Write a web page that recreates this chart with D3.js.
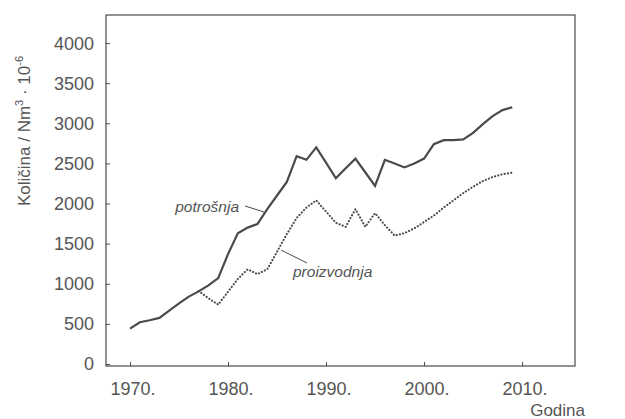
<!DOCTYPE html>
<html><head><meta charset="utf-8">
<script src="https://cdn.jsdelivr.net/npm/d3@7"></script>
<style>
body{margin:0;background:#fff;}
text{font-family:"Liberation Sans",Arial,sans-serif;fill:#555;}
</style></head>
<body><svg id="c" width="625" height="419"></svg>
<script>
const potrosnjaYears = [1970,1971,1972,1973,1974,1975,1976,1977,1978,1979,1980,1981,1982,1983,1984,1985,1986,1987,1988,1989,1990,1991,1992,1993,1994,1995,1996,1997,1998,1999,2000,2001,2002,2003,2004,2005,2006,2007,2008,2009];
const potrosnjaValues = [440,520,545,575,665,755,840,905,980,1070,1370,1630,1700,1745,1930,2100,2270,2590,2545,2700,2510,2315,2440,2560,2390,2220,2545,2500,2450,2500,2560,2740,2790,2790,2800,2880,2990,3090,3165,3200];
const proizvodnjaYears = [1977,1978,1979,1980,1981,1982,1983,1984,1985,1986,1987,1988,1989,1990,1991,1992,1993,1994,1995,1996,1997,1998,1999,2000,2001,2002,2003,2004,2005,2006,2007,2008,2009];
const proizvodnjaValues = [910,820,740,900,1060,1180,1120,1180,1400,1620,1820,1950,2040,1900,1760,1710,1930,1710,1880,1730,1600,1630,1690,1770,1850,1950,2040,2130,2210,2280,2330,2365,2385];
const yTicks = [0,500,1000,1500,2000,2500,3000,3500,4000];
const xTicks = [1970,1980,1990,2000,2010];

const svg = d3.select("#c");
const L=106,R=575,T=15,B=366;
const x = d3.scaleLinear().domain([1967.55,2015.4]).range([L,R]);
const y = d3.scaleLinear().domain([-25,4350]).range([B,T]);
const col = "#4a4a4a";

// frame
svg.append("rect").attr("x",L).attr("y",T).attr("width",R-L).attr("height",B-T)
  .attr("fill","none").attr("stroke",col).attr("stroke-width",1.2);

const yAxis = svg.append("g").attr("transform",`translate(${L},0)`)
  .call(d3.axisRight(y).tickValues(yTicks).tickSize(4).tickFormat(""));
yAxis.select(".domain").remove();
yAxis.selectAll("line").attr("stroke",col);
svg.selectAll(".ylab").data(yTicks).enter().append("text")
  .attr("x",L-12).attr("y",d=>y(d)).attr("dy","0.36em").attr("text-anchor","end")
  .attr("font-size",18).text(d=>d);

const xAxis = svg.append("g").attr("transform",`translate(0,${B})`)
  .call(d3.axisTop(x).tickValues(xTicks).tickSize(4).tickFormat(""));
xAxis.select(".domain").remove();
xAxis.selectAll("line").attr("stroke",col);
svg.selectAll(".xlab").data(xTicks).enter().append("text")
  .attr("x",d=>x(d)+3).attr("y",B+29).attr("text-anchor","middle")
  .attr("font-size",18).text(d=>d+".");

const line = d3.line().x(d=>x(d[0])).y(d=>y(d[1]));
svg.append("path").datum(potrosnjaYears.map((yr,i)=>[yr,potrosnjaValues[i]]))
  .attr("d",line).attr("fill","none").attr("stroke",col).attr("stroke-width",2.2)
  .attr("stroke-linejoin","miter");
svg.append("path").datum(proizvodnjaYears.map((yr,i)=>[yr,proizvodnjaValues[i]]))
  .attr("d",line).attr("fill","none").attr("stroke",col).attr("stroke-width",2.1)
  .attr("stroke-linecap","round").attr("stroke-dasharray","0.1 3.2");

// series labels
svg.append("text").attr("x",239).attr("y",212).attr("text-anchor","end")
  .attr("font-size",15.5).attr("font-style","italic").text("potrošnja");
svg.append("line").attr("x1",245).attr("y1",206).attr("x2",264).attr("y2",212)
  .attr("stroke",col).attr("stroke-width",1);
svg.append("text").attr("x",293).attr("y",277)
  .attr("font-size",15.5).attr("font-style","italic").text("proizvodnja");
svg.append("line").attr("x1",281).attr("y1",250).attr("x2",307).attr("y2",263)
  .attr("stroke",col).attr("stroke-width",1);

// axis titles
svg.append("text").attr("x",585).attr("y",416).attr("text-anchor","end")
  .attr("font-size",17).text("Godina");
const yt = svg.append("text").attr("transform","translate(30,131) rotate(-90)")
  .attr("text-anchor","middle").attr("font-size",17);
yt.append("tspan").text("Količina / Nm");
yt.append("tspan").attr("font-size",11).attr("dy",-7).text("3");
yt.append("tspan").attr("dy",7).text(" · 10");
yt.append("tspan").attr("font-size",11).attr("dy",-7).text("-6");
</script></body></html>
